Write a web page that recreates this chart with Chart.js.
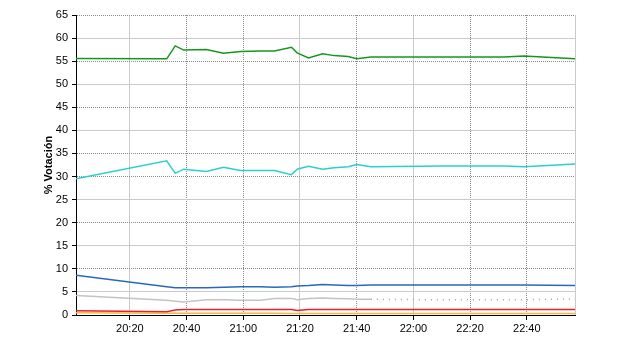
<!DOCTYPE html>
<html>
<head>
<meta charset="utf-8">
<script src="https://cdn.jsdelivr.net/npm/chart.js@4.4.1/dist/chart.umd.min.js"></script>
<style>
  html, body { margin: 0; padding: 0; background: #fff; }
  #wrap { width: 640px; height: 350px; }
</style>
</head>
<body>
<div id="wrap"><canvas id="votosChart"></canvas></div>
<script>
// hora de cada lectura
const horas = ['20:01', '20:33', '20:36', '20:39', '20:47', '20:53', '20:59', '21:06', '21:11', '21:17', '21:19',
               '21:23', '21:28', '21:32', '21:37', '21:40', '21:45', '22:10', '22:32', '22:39', '22:57'];

// % de votos por candidatura
const verde    = [55.6, 55.5, 58.3, 57.4, 57.5, 56.7, 57.1, 57.2, 57.2, 58.0, 56.8,
                  55.7, 56.6, 56.2, 56.0, 55.5, 55.9, 55.9, 55.9, 56.1, 55.5];
const turquesa = [29.5, 33.4, 30.7, 31.6, 31.1, 32.0, 31.3, 31.3, 31.3, 30.4, 31.6,
                  32.2, 31.6, 31.9, 32.1, 32.6, 32.1, 32.3, 32.3, 32.1, 32.7];
const azul     = [8.6, 6.1, 5.9, 5.9, 5.9, 6.0, 6.1, 6.1, 6.0, 6.1, 6.3,
                  6.4, 6.6, 6.5, 6.4, 6.4, 6.5, 6.5, 6.5, 6.5, 6.4];
const gris     = [4.2, 3.2, 3.0, 2.8, 3.3, 3.3, 3.2, 3.2, 3.6, 3.6, 3.3,
                  3.6, 3.7, 3.6, 3.5, 3.4, 3.4, 3.3, 3.3, 3.3, 3.5];
const rojo     = [0.9, 0.7, 1.1, 1.2, 1.2, 1.2, 1.2, 1.2, 1.2, 1.2, 1.0,
                  1.2, 1.2, 1.2, 1.2, 1.2, 1.2, 1.2, 1.2, 1.2, 1.2];
const amarillo = [0.5, 0.4, 0.4, 0.4, 0.4, 0.4, 0.4, 0.4, 0.4, 0.35, 0.35,
                  0.35, 0.35, 0.3, 0.3, 0.3, 0.3, 0.3, 0.3, 0.3, 0.3];

// ejes
const horasEje = ['20:20', '20:40', '21:00', '21:20', '21:40', '22:00', '22:20', '22:40'];
const valoresEjeY = [0, 5, 10, 15, 20, 25, 30, 35, 40, 45, 50, 55, 60, 65];

// minutos desde las 20:00
function aMinutos(h) {
    const [hh, mm] = h.split(':').map(Number);
    return (hh - 20) * 60 + mm;
}

const xs = horas.map(aMinutos);
const minutosEje = horasEje.map(aMinutos);
const xMin = xs[0];
const xMax = xs[xs.length - 1];

function serie(valores, color, extra) {
    return Object.assign({
        data: valores.map((v, i) => ({ x: xs[i], y: v })),
        borderColor: color,
        borderWidth: 1.5,
        pointRadius: 0,
        fill: false,
        tension: 0,
    }, extra || {});
}

// lineas de la rejilla: unas punteadas oscuras, otras continuas claras
const punteadasX = [40, 60, 100, 140, 160];
const punteadasY = [65, 55, 45, 35, 30, 20, 10];
const colorPunto = '#8a8a8a';
const colorClaro = '#cacaca';

const fuente = { family: 'Arial, "Liberation Sans", sans-serif', size: 11 };

const ctx = document.getElementById('votosChart').getContext('2d');
new Chart(ctx, {
    type: 'line',
    data: {
        datasets: [
            serie(rojo, '#e8202a'),
            serie(amarillo, '#f5b942'),
            serie(azul, '#2a68bd'),
            serie(gris, '#c4c4c4', {
                segment: {
                    borderDash: c => c.p0.parsed.x >= 105 ? [1, 5] : undefined,
                    borderColor: c => c.p0.parsed.x >= 105 ? '#a0a0a0' : undefined,
                },
            }),
            serie(turquesa, '#2ccfcf'),
            serie(verde, '#16961c'),
        ],
    },
    options: {
        responsive: true,
        maintainAspectRatio: false,
        animation: false,
        layout: { padding: { left: 0, top: 15, right: 65, bottom: 0 } },
        plugins: {
            legend: { display: false },
            tooltip: { enabled: false },
        },
        scales: {
            x: {
                type: 'linear',
                min: xMin,
                max: xMax,
                afterBuildTicks: s => { s.ticks = minutosEje.concat([xMax]).map(v => ({ value: v })); },
                afterFit: s => { s.height = 35; },
                grid: {
                    color: c => (c.tick && punteadasX.includes(c.tick.value)) ? colorPunto : colorClaro,
                    tickColor: c => (c.tick && c.tick.value === xMax) ? 'rgba(0,0,0,0)' : '#000',
                    tickLength: 5,
                },
                border: {
                    color: '#000',
                    dash: c => (c.tick && punteadasX.includes(c.tick.value)) ? [1, 1] : [],
                },
                ticks: {
                    callback: (v, i) => horasEje[i] || '',
                    color: '#000',
                    font: fuente,
                    padding: 2,
                    maxRotation: 0,
                    autoSkip: false,
                },
            },
            y: {
                min: 0,
                max: 65,
                afterBuildTicks: s => { s.ticks = valoresEjeY.map(v => ({ value: v })); },
                afterFit: s => { s.width = 76; },
                grid: {
                    color: c => {
                        if (!c.tick) return colorClaro;
                        if (c.tick.value === 0) return '#000';
                        return punteadasY.includes(c.tick.value) ? colorPunto : colorClaro;
                    },
                    tickColor: '#000',
                    tickLength: 4,
                },
                border: {
                    color: '#000',
                    dash: c => (c.tick && punteadasY.includes(c.tick.value)) ? [1, 1] : [],
                },
                ticks: {
                    color: '#000',
                    font: fuente,
                    padding: 4,
                },
                title: {
                    display: true,
                    text: '% Votación',
                    color: '#000',
                    font: { family: fuente.family, size: 11, weight: 'bold' },
                    padding: { top: 42, bottom: 0 },
                },
            },
        },
    },
});
</script>
</body>
</html>
